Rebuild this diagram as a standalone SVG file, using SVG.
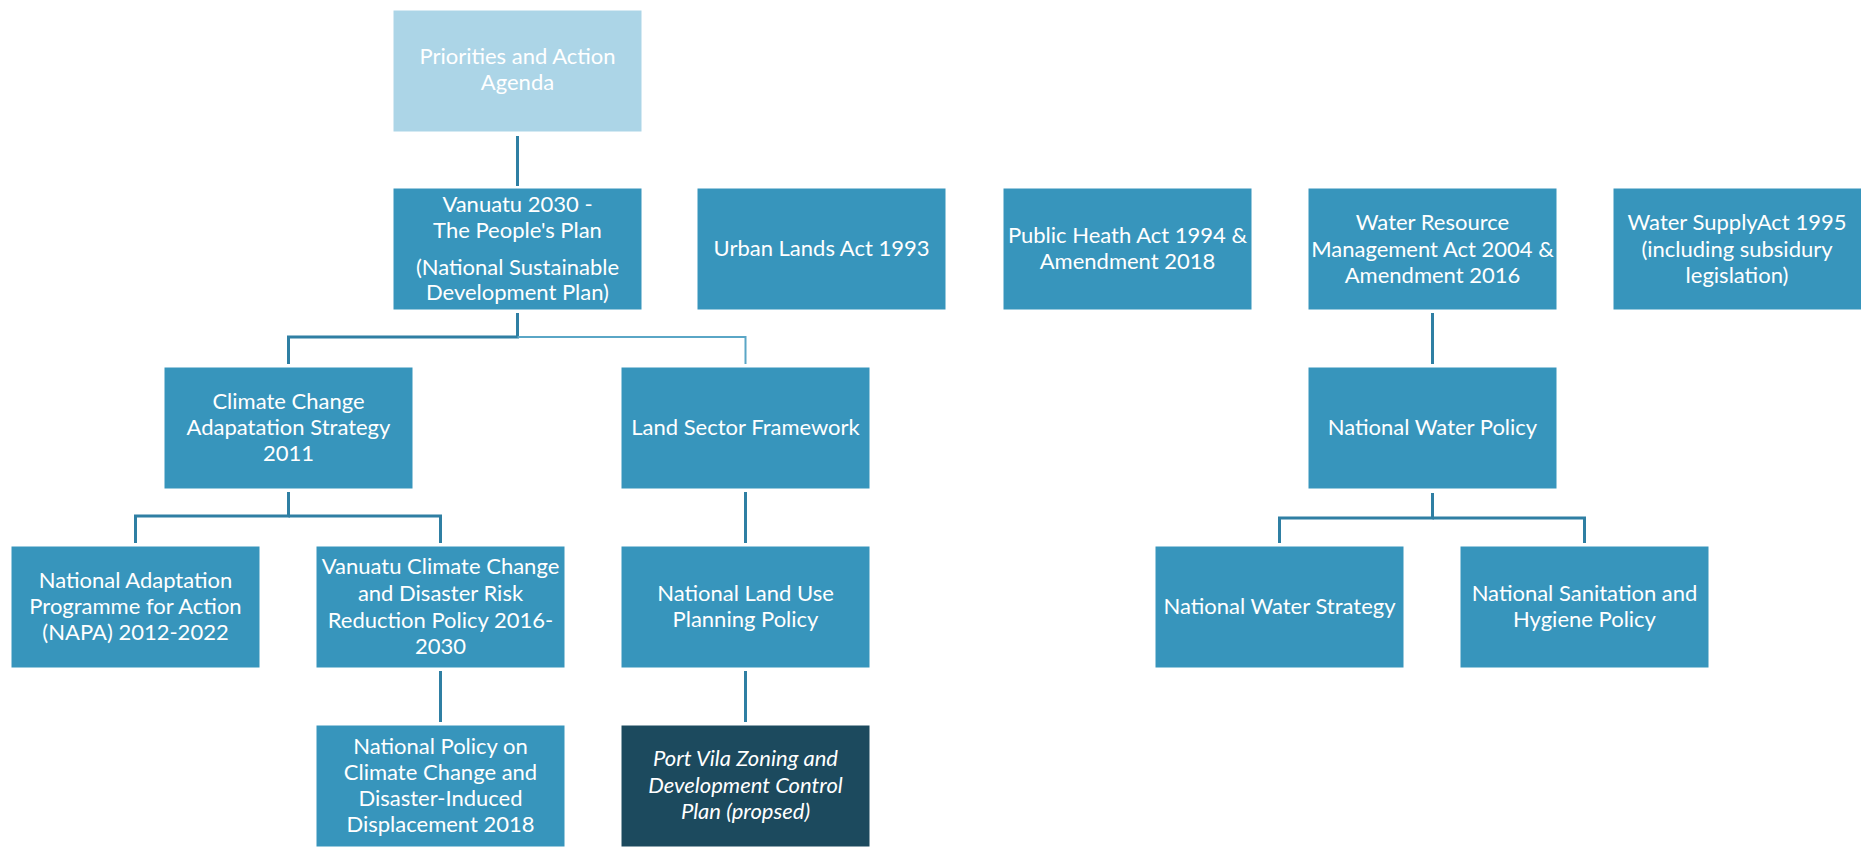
<svg xmlns="http://www.w3.org/2000/svg" width="1861" height="848" viewBox="0 0 1861 848">
<style>
.box{fill:#3795bc;stroke:#ffffff;stroke-width:1}
.light{fill:#acd5e7}
.dark{fill:#1c4a5e}
text{font-family:Lato,"Open Sans",sans-serif;font-size:22px;fill:#ffffff;text-anchor:middle}
.it{font-style:italic}
.ln{fill:none;stroke:#2f7fa3;stroke-width:3}
.ln2{fill:none;stroke:#5aa6c6;stroke-width:2}
</style>
<rect width="1861" height="848" fill="#ffffff"/>
<g id="connectors">
<line class="ln" x1="517.5" y1="136" x2="517.5" y2="186"/>
<polyline class="ln" points="517.5,313 517.5,337 288.5,337 288.5,364"/>
<polyline class="ln2" points="517.5,337 745.5,337 745.5,364"/>
<polyline class="ln" points="288.5,492 288.5,516 135.5,516 135.5,543"/>
<polyline class="ln" points="288.5,516 440.5,516 440.5,543"/>
<line class="ln" x1="745.5" y1="492" x2="745.5" y2="543"/>
<line class="ln" x1="440.5" y1="671" x2="440.5" y2="722"/>
<line class="ln" x1="745.5" y1="671" x2="745.5" y2="722"/>
<line class="ln" x1="1432.5" y1="313" x2="1432.5" y2="364"/>
<polyline class="ln" points="1432.5,493 1432.5,518 1279.5,518 1279.5,543"/>
<polyline class="ln" points="1432.5,518 1584.5,518 1584.5,543"/>
</g>
<g id="priorities">
<rect class="box light" x="393" y="10" width="249" height="122"/>
<text x="517.5" y="64">Priorities and Action</text>
<text x="517.5" y="90">Agenda</text>
</g>
<g id="vanuatu2030">
<rect class="box" x="393" y="188" width="249" height="122"/>
<text x="517.5" y="212">Vanuatu 2030 -</text>
<text x="517.5" y="238">The People's Plan</text>
<text x="517.5" y="275">(National Sustainable</text>
<text x="517.5" y="300">Development Plan)</text>
</g>
<g id="urbanlands">
<rect class="box" x="697" y="188" width="249" height="122"/>
<text x="821.5" y="256">Urban Lands Act 1993</text>
</g>
<g id="publichealth">
<rect class="box" x="1003" y="188" width="249" height="122"/>
<text x="1127.5" y="243">Public Heath Act 1994 &amp;</text>
<text x="1127.5" y="269">Amendment 2018</text>
</g>
<g id="waterresource">
<rect class="box" x="1308" y="188" width="249" height="122"/>
<text x="1432.5" y="230">Water Resource</text>
<text x="1432.5" y="257">Management Act 2004 &amp;</text>
<text x="1432.5" y="283">Amendment 2016</text>
</g>
<g id="watersupply">
<rect class="box" x="1613" y="188" width="249" height="122"/>
<text x="1737" y="230">Water SupplyAct 1995</text>
<text x="1737" y="257">(including subsidury</text>
<text x="1737" y="283">legislation)</text>
</g>
<g id="climatestrategy">
<rect class="box" x="164" y="367" width="249" height="122"/>
<text x="288.5" y="409">Climate Change</text>
<text x="288.5" y="435">Adapatation Strategy</text>
<text x="288.5" y="461">2011</text>
</g>
<g id="landsector">
<rect class="box" x="621" y="367" width="249" height="122"/>
<text x="745.5" y="435">Land Sector Framework</text>
</g>
<g id="waterpolicy">
<rect class="box" x="1308" y="367" width="249" height="122"/>
<text x="1432.5" y="435">National Water Policy</text>
</g>
<g id="napa">
<rect class="box" x="11" y="546" width="249" height="122"/>
<text x="135.5" y="588">National Adaptation</text>
<text x="135.5" y="614">Programme for Action</text>
<text x="135.5" y="640">(NAPA) 2012-2022</text>
</g>
<g id="vccdrr">
<rect class="box" x="316" y="546" width="249" height="122"/>
<text x="440.5" y="574">Vanuatu Climate Change</text>
<text x="440.5" y="601">and Disaster Risk</text>
<text x="440.5" y="628">Reduction Policy 2016-</text>
<text x="440.5" y="654">2030</text>
</g>
<g id="landuse">
<rect class="box" x="621" y="546" width="249" height="122"/>
<text x="745.5" y="601">National Land Use</text>
<text x="745.5" y="627">Planning Policy</text>
</g>
<g id="waterstrategy">
<rect class="box" x="1155" y="546" width="249" height="122"/>
<text x="1279.5" y="614">National Water Strategy</text>
</g>
<g id="sanitation">
<rect class="box" x="1460" y="546" width="249" height="122"/>
<text x="1584.5" y="601">National Sanitation and</text>
<text x="1584.5" y="627">Hygiene Policy</text>
</g>
<g id="displacement">
<rect class="box" x="316" y="725" width="249" height="122"/>
<text x="440.5" y="754">National Policy on</text>
<text x="440.5" y="780">Climate Change and</text>
<text x="440.5" y="806">Disaster-Induced</text>
<text x="440.5" y="832">Displacement 2018</text>
</g>
<g id="portvila">
<rect class="box dark" x="621" y="725" width="249" height="122"/>
<text class="it" x="745.5" y="766">Port Vila Zoning and</text>
<text class="it" x="745.5" y="793">Development Control</text>
<text class="it" x="745.5" y="819">Plan (propsed)</text>
</g>
</svg>
